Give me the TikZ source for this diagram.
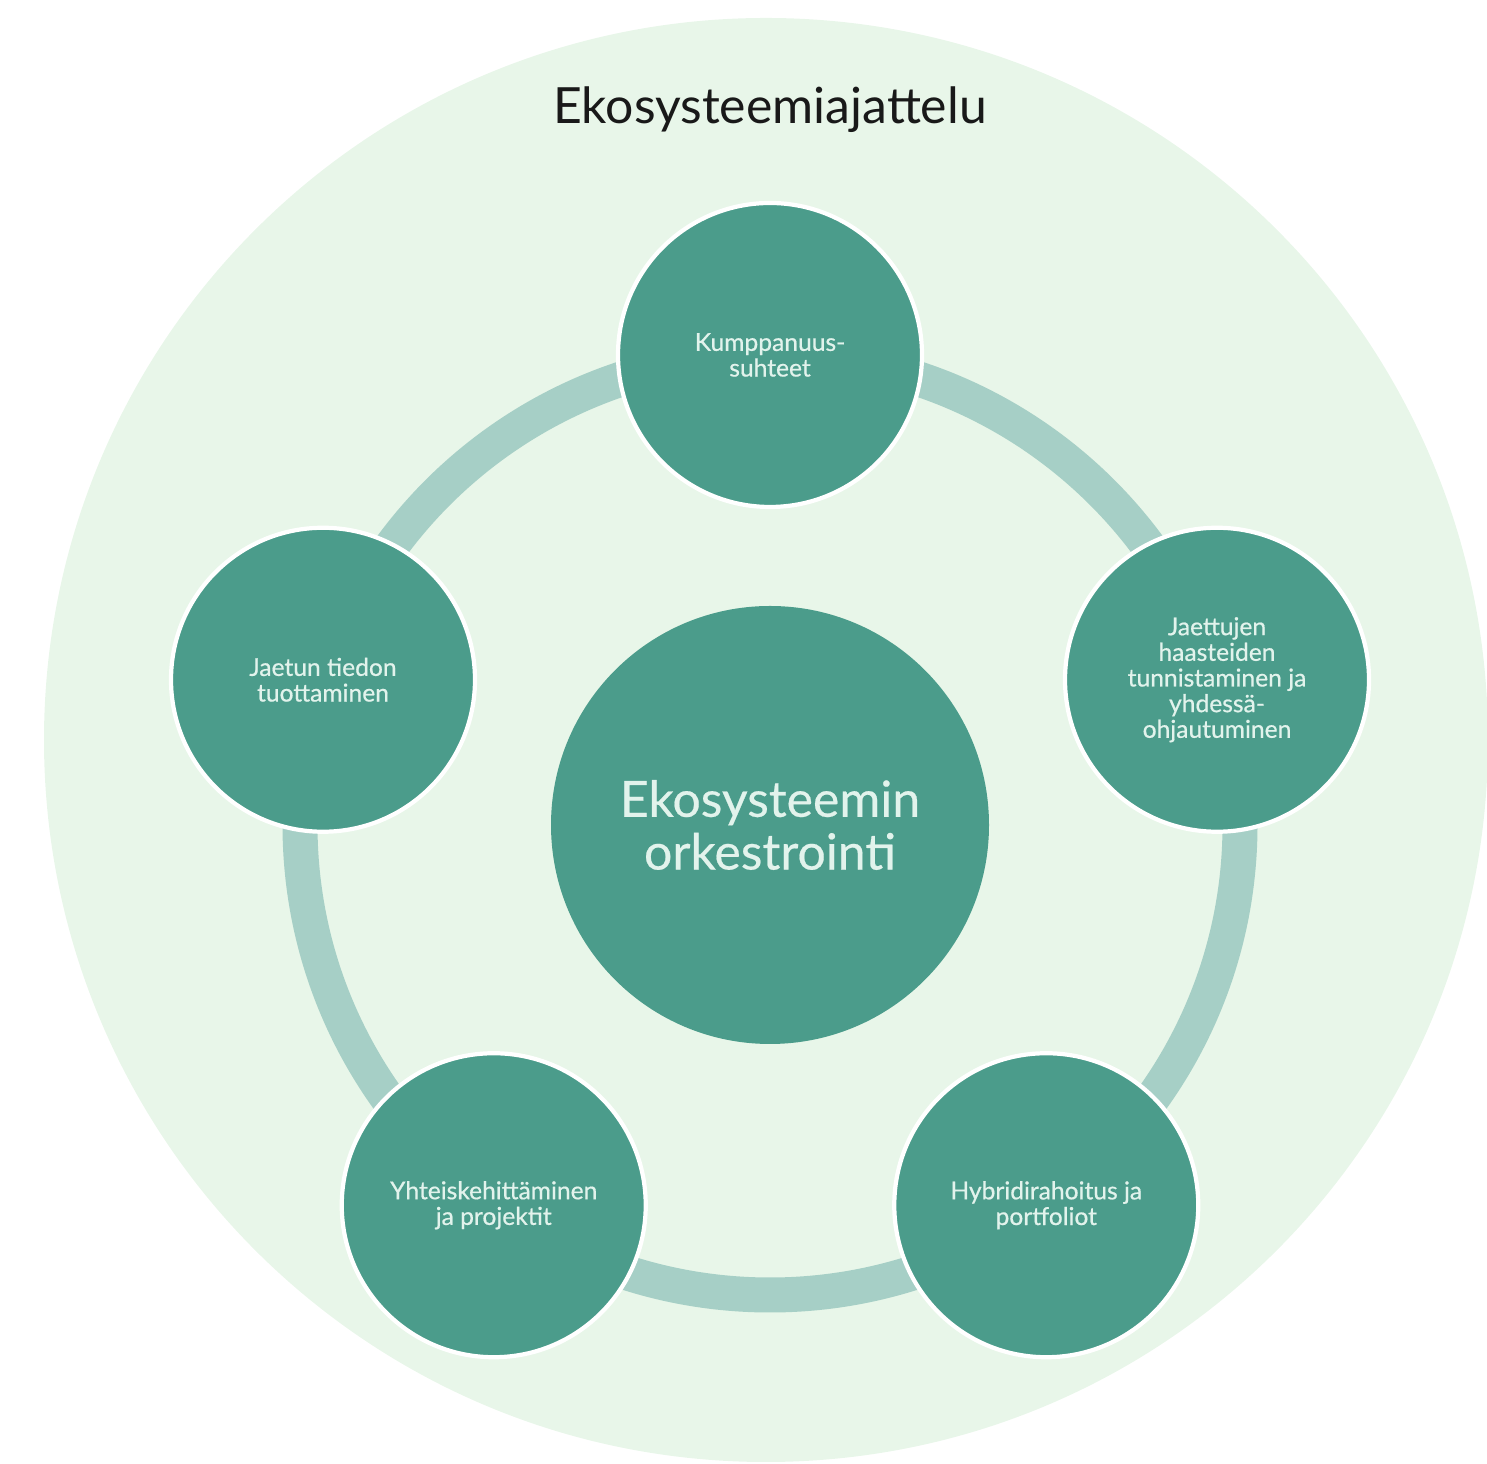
\documentclass[tikz,border=0pt]{standalone}
\usepackage{fontspec}
\setmainfont{Lato}
\usepackage{tikz}
\usetikzlibrary{positioning,calc}

\definecolor{bgmint}{HTML}{E8F6E9}
\definecolor{ringteal}{HTML}{A6CFC6}
\definecolor{darkteal}{HTML}{4B9C8B}
\definecolor{paletext}{HTML}{E2F3EC}

\tikzset{
  satellite/.style = {circle, fill = darkteal, draw = white, line width = 1.2pt,
    minimum size = 3.04cm, inner sep = 0pt, align = center, text = paletext,
    font = \fontsize{7}{7.3}\selectfont\addfontfeature{FakeBold=0.6}},
  hubnode/.style = {circle, fill = darkteal, minimum size = 4.38cm, inner sep = 0pt,
    align = center, text = paletext, font = \fontsize{14.2}{15}\selectfont\addfontfeature{FakeBold=0.4}},
  ring/.style = {draw = ringteal, line width = 0.35cm},
}

\begin{document}
\begin{tikzpicture}
  \useasboundingbox (0,0) rectangle (14.87,14.64);

  % background and title
  \fill[bgmint] (7.66,7.24) circle (7.22);
  \node[font = \fontsize{14.2}{15}\selectfont, text = black!90] (title) at (7.70,13.54) {Ekosysteemiajattelu};

  % ring and centre
  \coordinate (c) at (7.70,6.39);
  \draw[ring] (c) circle (4.70);
  \node[hubnode] (hub) at (c) {Ekosysteemin\\orkestrointi};

  % satellites
  \node[satellite] (kump) at ($(c)+(90:4.70)$) {Kumppanuus-\\suhteet};
  \node[satellite] (jaett) at ($(c)+(18:4.70)$) {Jaettujen\\haasteiden\\tunnistaminen ja\\yhdessä-\\ohjautuminen};
  \node[satellite] (hybr) at ($(c)+(-54:4.70)$) {Hybridirahoitus ja\\portfoliot};
  \node[satellite] (yhteis) at ($(c)+(-126:4.70)$) {Yhteiskehittäminen\\ja projektit};
  \node[satellite] (tieto) at ($(c)+(162:4.70)$) {Jaetun tiedon\\tuottaminen};
\end{tikzpicture}
\end{document}
